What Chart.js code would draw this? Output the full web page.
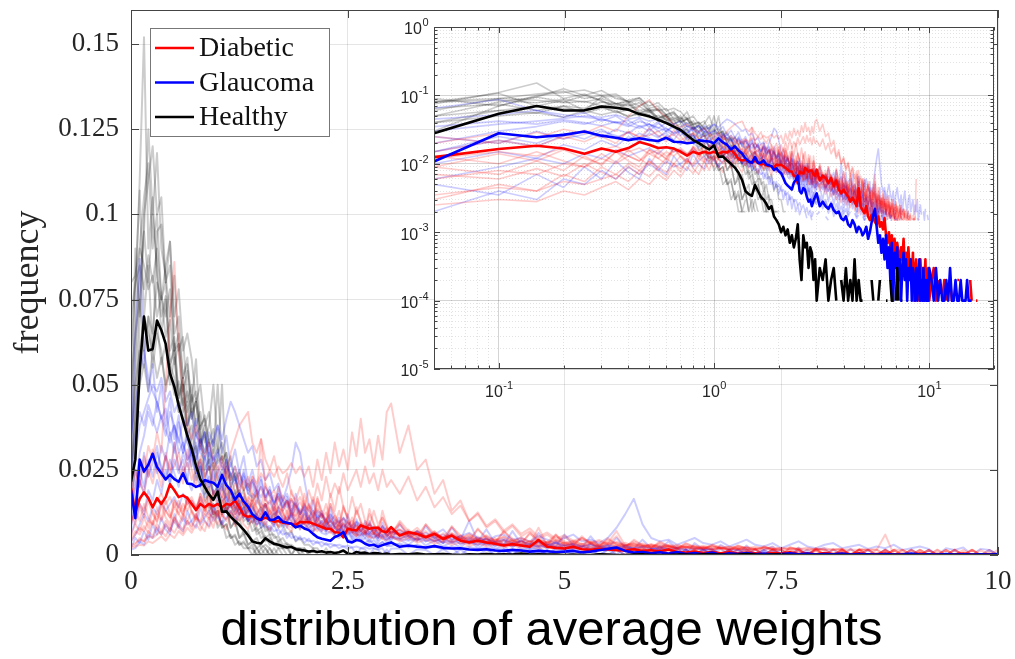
<!DOCTYPE html>
<html lang="en">
<head>
<meta charset="UTF-8">
<title>Distribution of average weights</title>
<script src="https://cdn.jsdelivr.net/npm/chart.js"></script>
<style>
    body { margin: 0; background: #fff; }
    #wrap { position: relative; width: 1015px; height: 659px; }
    #mainChart { position: absolute; left: 0; top: 0; }
    #insetChart { position: absolute; left: 380px; top: 0; }
</style>
</head>
<body>
<div id="wrap">
    <canvas id="mainChart" width="1015" height="659"></canvas>
    <canvas id="insetChart" width="635" height="410"></canvas>
</div>
<script>
// bin centres of the histogram (same bins for every curve)
const bins = [
    0, 0.05, 0.1, 0.15, 0.2, 0.25, 0.3, 0.35, 0.4, 0.45, 0.5, 0.55, 0.6, 0.65, 0.7, 0.75, 0.8, 0.85, 0.9, 0.95,
    1, 1.05, 1.1, 1.15, 1.2, 1.25, 1.3, 1.35, 1.4, 1.45, 1.5, 1.55, 1.6, 1.65, 1.7, 1.75, 1.8, 1.85, 1.9, 1.95,
    2, 2.05, 2.1, 2.15, 2.2, 2.25, 2.3, 2.35, 2.4, 2.45, 2.5, 2.55, 2.6, 2.65, 2.7, 2.75, 2.8, 2.85, 2.9, 2.95, 3,
    3.1, 3.2, 3.3, 3.4, 3.5, 3.6, 3.7, 3.8, 3.9, 4, 4.1, 4.2, 4.3, 4.4, 4.5, 4.6, 4.7, 4.8, 4.9, 5,
    5.1, 5.2, 5.3, 5.4, 5.5, 5.6, 5.7, 5.8, 5.9, 6, 6.1, 6.2, 6.3, 6.4, 6.5, 6.6, 6.7, 6.8, 6.9, 7,
    7.1, 7.2, 7.3, 7.4, 7.5, 7.6, 7.7, 7.8, 7.9, 8, 8.1, 8.2, 8.3, 8.4, 8.5, 8.6, 8.7, 8.8, 8.9, 9,
    9.1, 9.2, 9.3, 9.4, 9.5, 9.6, 9.7, 9.8, 9.9, 10,
    10.25, 10.5, 10.75, 11, 11.25, 11.5, 11.75, 12, 12.25, 12.5, 12.75, 13, 13.25, 13.5,
    13.75, 14, 14.25, 14.5, 14.75, 15, 15.25, 15.5, 15.75, 16, 16.25, 16.5, 16.75, 17
];

// all frequencies below are in units of 1e-4
const SCALE = 1e-4;

// class means (bold lines)
const diabeticMean = [
    195, 125, 165, 184, 167, 140, 167, 150, 170, 208, 190, 170, 175, 167, 150, 132, 150, 140, 150, 143,
    150, 140, 150, 147, 160, 140, 117, 112, 115, 108, 103, 110, 104, 98, 100, 95, 93, 92, 88, 97,
    96, 97, 92, 87, 82, 77, 77, 67, 66, 52, 77, 74, 72, 87, 82, 77, 80, 80, 70, 67, 82,
    57, 67, 62, 52, 62, 47, 57, 42, 37, 42, 37, 33, 28, 32, 28, 24, 44, 24, 21, 19,
    24, 17, 15, 18, 16, 14, 13, 17, 12, 14, 11, 16, 9, 7, 10, 6, 9, 5, 8, 4,
    7, 5, 3, 6, 4, 8, 3, 5, 2, 6, 3, 4, 2, 5, 1, 3, 4, 2, 3, 1,
    4, 2, 3, 1, 2, 4, 1, 2, 3, 1,
    2, 3, 1, 2, 0, 1, 2, 1, 0, 2, 1, 1, 0, 2, 2, 0, 0, 1, 1, 0, 0, 2, 1, 0, 0, 1, 1, 0
];
const glaucomaMean = [
    190, 108, 280, 245, 265, 297, 258, 240, 222, 236, 223, 215, 240, 210, 208, 200, 205, 220, 215, 212,
    200, 235, 205, 190, 162, 180, 157, 142, 120, 108, 103, 125, 103, 104, 112, 98, 95, 92, 81, 86,
    78, 73, 62, 52, 48, 45, 42, 53, 58, 67, 40, 37, 44, 42, 33, 28, 30, 24, 29, 33, 37,
    24, 28, 24, 22, 26, 21, 19, 20, 16, 15, 17, 13, 12, 15, 13, 10, 12, 11, 9, 10,
    12, 8, 10, 14, 18, 22, 12, 7, 9, 5, 8, 4, 9, 3, 6, 2, 7, 1, 5, 3,
    6, 2, 4, 1, 3, 5, 2, 4, 1, 3, 2, 4, 1, 3, 2, 1, 3, 1, 2, 4,
    1, 2, 1, 3, 1, 2, 1, 2, 1, 3,
    2, 1, 3, 1, 2, 1, 1, 2, 1, 3, 1, 1, 2, 1, 1, 2, 1, 1, 1, 2, 1, 1, 1, 0, 0, 0, 0, 0
];
const healthyMean = [
    215, 280, 540, 700, 600, 605, 688, 660, 620, 533, 494, 440, 395, 350, 312, 262, 222, 200, 178, 162,
    186, 127, 128, 112, 100, 88, 74, 58, 40, 36, 34, 49, 40, 33, 30, 26, 22, 24, 17, 15,
    13, 10, 12, 9, 11, 7, 9, 6, 8, 13, 4, 2, 9, 6, 7, 3, 6, 5, 2, 4, 1,
    3, 2, 4, 1, 2, 3, 1, 0, 2, 1, 3, 1, 2, 1, 4, 1, 2, 1, 1, 0,
    1, 0, 0, 2, 1, 0, 0, 1, 2, 0, 0, 0, 1, 1, 0, 2, 1, 1, 0, 1,
    3, 1, 0, 1, 1, 0, 0, 0, 0, 0, 0, 0, 0, 0, 0, 0, 0, 0, 0, 0,
    0, 0, 0, 0, 0, 0, 0, 0, 0, 0,
    0, 0, 0, 0, 0, 0, 0, 0, 0, 0, 0, 0, 0, 0, 0, 0, 0, 0, 0, 0, 0, 0, 0, 0, 0, 0, 0, 0
];

// individual images (faint lines)
const diabetic1 = [
    40, 60, 80, 70, 100, 90, 120, 100, 130, 110, 140, 120, 150, 130, 160, 140, 170, 150, 180, 160,
    190, 170, 200, 180, 210, 190, 220, 200, 230, 210, 240, 220, 250, 230, 260, 240, 250, 270, 240, 260,
    230, 260, 200, 280, 220, 300, 240, 330, 260, 310, 250, 360, 290, 400, 300, 340, 260, 350, 280, 420, 445,
    300, 380, 250, 280, 180, 220, 130, 160, 100, 120, 80, 100, 65, 85, 55, 70, 48, 60, 42, 52,
    38, 46, 34, 40, 30, 36, 27, 32, 24, 29, 22, 26, 20, 24, 18, 22, 17, 20, 16, 19,
    15, 18, 0, 17, 15, 0, 16, 0, 15, 0, 0, 15, 0, 16, 0, 0, 15, 0
];
const diabetic2 = [
    100, 120, 150, 130, 170, 140, 160, 180, 150, 170, 140, 160, 130, 150, 170, 140, 160, 130, 150, 120,
    140, 160, 130, 150, 120, 140, 110, 130, 150, 120, 140, 110, 130, 150, 120, 140, 160, 130, 150, 170,
    140, 190, 150, 210, 160, 230, 170, 210, 180, 240, 190, 220, 250, 200, 260, 210, 240, 190, 250, 200, 220,
    180, 230, 160, 200, 140, 170, 120, 145, 100, 125, 85, 105, 72, 90, 62, 78, 54, 66, 48, 58,
    42, 50, 37, 44, 33, 39, 29, 35, 26, 31, 23, 28, 21, 25, 19, 23, 17, 21, 16, 19,
    15, 18, 0, 17, 15, 0, 16, 0, 15, 0, 0, 15, 0, 16, 15, 0, 0, 15, 0, 0,
    15, 0, 0, 0, 16, 0, 15, 0, 0, 0, 15, 0, 0, 16, 0
];
const diabetic3 = [
    200, 150, 220, 180, 250, 210, 270, 230, 290, 250, 260, 300, 240, 270, 220, 250, 280, 230, 260, 210,
    240, 270, 220, 300, 340, 380, 400, 420, 330, 300, 340, 280, 250, 290, 230, 200, 240, 180, 160, 200,
    150, 130, 170, 120, 110, 150, 100, 90, 130, 85, 80, 110, 75, 70, 95, 65, 60, 85, 55, 52, 75,
    48, 65, 44, 58, 40, 52, 36, 48, 33, 44, 30, 40, 28, 36, 26, 33, 24, 30, 22, 28,
    20, 26, 18, 24, 17, 22, 16, 20, 15, 18, 0, 17, 15, 16, 0, 15, 0, 0, 15, 0,
    0, 16, 0
];
const diabetic4 = [
    25, 30, 50, 40, 70, 55, 90, 70, 100, 80, 110, 90, 120, 100, 130, 110, 100, 140, 120, 110,
    130, 115, 105, 125, 110, 100, 120, 105, 95, 115, 100, 90, 110, 95, 85, 105, 90, 80, 100, 85,
    75, 95, 80, 70, 90, 75, 65, 85, 70, 60, 80, 65, 55, 75, 60, 50, 70, 55, 48, 65, 52,
    45, 60, 42, 55, 40, 52, 38, 50, 36, 48, 34, 45, 32, 42, 30, 40, 28, 38, 60, 26,
    36, 24, 34, 22, 32, 55, 21, 30, 20, 28, 19, 26, 18, 25, 17, 24, 16, 22, 15, 21,
    0, 20, 15, 19, 0, 18, 0, 17, 15, 16, 0, 15, 0, 16, 0, 0, 15, 0, 0, 15,
    0, 0, 0, 15, 0
];
const diabetic5 = [
    150, 200, 280, 240, 320, 280, 360, 300, 500, 700, 860, 600, 480, 380, 340, 380, 320, 290, 330, 280,
    250, 290, 240, 220, 260, 210, 190, 230, 180, 170, 200, 160, 150, 175, 140, 130, 155, 120, 115, 135,
    105, 100, 120, 92, 88, 105, 80, 76, 92, 70, 66, 80, 60, 58, 70, 52, 50, 62, 46, 44, 55,
    40, 50, 36, 45, 33, 40, 30, 37, 27, 34, 25, 31, 23, 28, 21, 26, 19, 24, 18, 22,
    17, 20, 16, 19, 15, 18, 0, 17, 15, 16, 0, 15, 0, 0, 15, 0, 0, 0, 16, 0
];
const diabetic6 = [
    30, 35, 45, 40, 55, 50, 60, 70, 55, 80, 65, 90, 75, 100, 85, 110, 95, 120, 105, 130,
    115, 140, 125, 150, 135, 160, 145, 170, 155, 180, 340, 200, 175, 190, 160, 175, 150, 165, 140, 155,
    130, 145, 120, 135, 110, 125, 100, 115, 95, 108, 88, 100, 82, 95, 78, 90, 72, 85, 68, 80, 64,
    75, 60, 70, 56, 66, 52, 62, 48, 58, 45, 55, 42, 52, 40, 48, 38, 45, 36, 42, 34,
    40, 32, 38, 30, 36, 70, 28, 34, 26, 32, 25, 30, 24, 28, 23, 27, 22, 26, 21, 25,
    20, 24, 19, 23, 18, 22, 17, 21, 16, 20, 15, 19, 0, 18, 15, 17, 0, 16, 15, 0,
    15, 0, 16, 0, 0, 15, 0, 0, 15, 0, 0, 15, 0, 16, 0, 0, 15, 0
];
const diabetic7 = [
    120, 90, 140, 110, 160, 120, 100, 150, 130, 110, 160, 140, 120, 170, 150, 130, 180, 160, 140, 190,
    170, 150, 180, 160, 140, 170, 150, 130, 160, 140, 120, 150, 130, 115, 140, 120, 105, 130, 110, 95,
    120, 100, 88, 110, 92, 80, 100, 85, 74, 92, 78, 68, 85, 72, 62, 78, 66, 58, 72, 60, 54,
    66, 50, 62, 46, 58, 43, 54, 40, 50, 38, 47, 36, 44, 34, 42, 32, 80, 30, 38, 29,
    36, 27, 34, 26, 32, 25, 30, 24, 29, 23, 28, 22, 26, 21, 25, 20, 24, 19, 23, 18,
    22, 17, 21, 16, 20, 15, 19, 0, 18, 15, 17, 0, 16, 15, 0, 15, 60, 0, 15, 0,
    16, 0, 0, 15, 0, 0, 15, 0, 0, 0, 15, 0, 0, 16, 0
];
const diabetic8 = [
    60, 90, 70, 110, 80, 130, 95, 150, 110, 90, 160, 120, 100, 170, 130, 105, 180, 135, 110, 190,
    140, 115, 200, 145, 120, 190, 140, 115, 180, 135, 110, 175, 130, 105, 170, 125, 100, 165, 120, 95,
    160, 115, 90, 155, 110, 85, 150, 105, 80, 145, 100, 75, 140, 95, 70, 135, 90, 65, 130, 85, 60,
    95, 60, 45, 90, 55, 40, 85, 50, 36, 78, 46, 33, 72, 42, 30, 66, 38, 28, 60, 35,
    26, 55, 32, 24, 50, 30, 22, 45, 28, 20, 40, 25, 18, 35, 22, 16, 30, 20, 15, 28,
    18, 0, 25, 16, 0, 22, 15, 0, 20, 0, 15, 18, 0, 0, 16, 0, 15, 0, 0, 15,
    0, 0, 15, 0, 16, 0, 0, 15, 0, 0, 15, 0, 0, 16, 0
];
const diabetic9 = [
    180, 250, 200, 290, 230, 310, 250, 200, 300, 240, 330, 260, 210, 310, 250, 200, 290, 230, 180, 270,
    220, 170, 260, 200, 160, 240, 190, 150, 230, 180, 140, 210, 170, 130, 200, 160, 120, 190, 150, 110,
    180, 140, 100, 165, 130, 95, 150, 120, 85, 140, 110, 80, 130, 100, 72, 120, 92, 66, 110, 85, 60,
    100, 70, 55, 90, 62, 50, 82, 58, 45, 75, 52, 40, 68, 48, 36, 62, 44, 32, 56, 40,
    30, 50, 36, 27, 45, 33, 25, 40, 30, 22, 36, 27, 20, 33, 25, 18, 30, 22, 16, 27,
    20, 15, 25, 18, 0, 22, 16, 0, 20, 15, 0, 18, 0, 15, 16, 0, 0, 15, 0, 0,
    0, 15, 0
];
const diabetic10 = [
    20, 25, 30, 28, 40, 35, 45, 55, 42, 60, 50, 70, 58, 80, 65, 90, 72, 100, 80, 110,
    90, 120, 100, 130, 110, 140, 120, 150, 130, 160, 140, 150, 120, 140, 110, 130, 100, 125, 95, 120,
    90, 115, 85, 110, 80, 105, 78, 100, 75, 95, 70, 92, 68, 88, 65, 85, 62, 82, 60, 78, 58,
    75, 55, 72, 52, 68, 50, 65, 48, 62, 45, 58, 42, 55, 40, 52, 38, 48, 36, 45, 34,
    42, 32, 40, 30, 38, 28, 36, 26, 34, 25, 32, 24, 30, 22, 28, 21, 26, 20, 25, 19,
    24, 18, 22, 17, 21, 16, 20, 15, 19, 0, 18, 15, 17, 0, 16, 15, 0, 15, 0, 16,
    0, 15, 0, 0, 15, 0, 16, 0, 0, 15, 0, 15, 0, 0, 16, 0
];
const diabetic11 = [
    90, 130, 100, 150, 110, 90, 140, 105, 160, 120, 95, 150, 115, 170, 125, 100, 160, 120, 180, 130,
    110, 170, 125, 190, 140, 115, 180, 135, 160, 120, 100, 150, 110, 140, 100, 90, 130, 95, 145, 105,
    90, 150, 110, 170, 120, 100, 180, 130, 200, 140, 110, 170, 120, 150, 100, 85, 130, 90, 110, 75, 65,
    90, 60, 80, 52, 70, 45, 62, 40, 55, 36, 48, 32, 44, 28, 40, 25, 36, 22, 32, 20,
    29, 18, 26, 17, 24, 16, 22, 15, 20, 0, 18, 15, 17, 0, 16, 0, 15, 0, 0, 15, 0
];
const diabetic12 = [
    50, 70, 60, 85, 65, 100, 75, 60, 90, 70, 110, 80, 65, 100, 75, 120, 85, 70, 110, 80,
    130, 90, 75, 120, 85, 125, 90, 75, 115, 85, 120, 88, 72, 110, 80, 115, 82, 68, 105, 75,
    110, 78, 64, 100, 70, 105, 72, 60, 95, 66, 100, 68, 56, 90, 62, 95, 64, 52, 85, 58, 80,
    55, 75, 50, 70, 46, 64, 42, 58, 38, 54, 35, 50, 32, 46, 30, 42, 28, 39, 26, 36,
    24, 33, 22, 30, 21, 28, 20, 26, 19, 24, 18, 22, 17, 21, 16, 20, 15, 19, 0, 18,
    15, 17, 0, 16, 15, 0, 15, 0, 16, 0, 0, 15, 0, 15, 0, 0, 15, 0, 16, 0,
    0, 15, 0, 15, 0, 0, 15, 0
];

const glaucoma1 = [
    300, 650, 870, 600, 520, 480, 450, 400, 430, 350, 380, 300, 330, 280, 300, 240, 260, 200, 230, 180,
    200, 160, 170, 140, 150, 120, 130, 100, 110, 90, 95, 80, 85, 70, 75, 60, 65, 50, 55, 45,
    50, 40, 42, 35, 38, 30, 33, 28, 30, 25, 27, 22, 25, 20, 23, 18, 21, 17, 20, 0, 18,
    20, 0, 17, 15, 0, 18, 0, 16, 0, 0, 15, 0, 17, 0, 0, 0, 15, 0, 0, 16,
    0, 0, 0, 0, 15, 0
];
const glaucoma2 = [
    120, 200, 300, 350, 420, 380, 450, 400, 350, 420, 380, 330, 400, 350, 300, 360, 300, 280, 330, 270,
    300, 250, 280, 230, 260, 210, 240, 200, 220, 180, 200, 170, 190, 150, 170, 140, 160, 130, 150, 120,
    140, 110, 130, 100, 120, 95, 110, 90, 100, 80, 95, 75, 90, 70, 85, 65, 80, 60, 75, 55, 70,
    60, 70, 55, 65, 50, 60, 45, 55, 40, 50, 45, 38, 48, 35, 42, 32, 40, 30, 36, 28,
    34, 25, 32, 24, 30, 22, 28, 20, 26, 18, 24, 17, 22, 0, 20, 16, 18, 0, 17, 15,
    0, 16, 0, 15, 0, 0, 15, 0, 0, 0, 16, 0
];
const glaucoma3 = [
    40, 60, 90, 120, 100, 140, 120, 160, 130, 150, 170, 140, 180, 150, 160, 130, 170, 140, 150, 120,
    160, 140, 130, 150, 120, 140, 110, 130, 120, 100, 130, 110, 120, 100, 140, 160, 200, 250, 330, 300,
    220, 150, 130, 110, 120, 90, 100, 80, 90, 70, 85, 65, 75, 60, 70, 55, 65, 50, 60, 45, 55,
    50, 55, 45, 50, 40, 48, 36, 45, 33, 40, 30, 38, 28, 34, 26, 32, 24, 30, 22, 28,
    20, 26, 18, 24, 17, 22, 16, 20, 0, 18, 15, 17, 0, 16, 0, 15, 0, 0, 15, 0
];
const glaucoma4 = [
    200, 300, 380, 420, 460, 500, 480, 520, 450, 480, 420, 450, 400, 380, 420, 350, 330, 360, 300, 280,
    310, 260, 240, 270, 220, 200, 230, 180, 170, 190, 150, 140, 160, 120, 130, 110, 100, 115, 90, 85,
    95, 75, 70, 80, 65, 60, 70, 55, 50, 60, 45, 42, 50, 38, 36, 44, 33, 30, 38, 28, 26,
    34, 25, 30, 22, 28, 20, 26, 19, 24, 18, 22, 17, 20, 0, 19, 16, 18, 0, 17, 15,
    16, 0, 15, 0, 0, 16, 0, 0, 15, 0
];
const glaucoma5 = [
    15, 20, 40, 30, 60, 50, 80, 60, 90, 70, 100, 80, 110, 90, 100, 120, 90, 110, 130, 100,
    120, 90, 110, 130, 100, 120, 140, 100, 120, 90, 110, 130, 100, 90, 110, 80, 100, 120, 90, 80,
    100, 110, 85, 95, 75, 90, 100, 80, 70, 90, 75, 85, 65, 80, 70, 60, 75, 65, 55, 70, 60,
    65, 55, 70, 50, 60, 75, 45, 55, 65, 50, 40, 55, 60, 45, 50, 40, 55, 45, 35, 50,
    60, 40, 45, 35, 50, 80, 120, 165, 90, 50, 40, 45, 30, 40, 50, 35, 30, 40, 25, 35,
    45, 30, 25, 35, 20, 30, 40, 25, 20, 30, 35, 20, 25, 30, 18, 25, 20, 30, 15, 20,
    25, 18, 0, 20, 15, 22, 0, 18, 15, 0
];
const glaucoma6 = [
    100, 150, 250, 200, 280, 230, 300, 260, 220, 280, 240, 200, 260, 220, 190, 240, 200, 170, 220, 180,
    160, 200, 170, 150, 180, 150, 130, 160, 140, 120, 140, 120, 105, 125, 110, 95, 115, 100, 85, 100,
    90, 78, 90, 80, 70, 85, 75, 65, 75, 68, 60, 70, 62, 55, 65, 58, 50, 60, 52, 45, 55,
    48, 42, 50, 40, 46, 36, 42, 34, 40, 30, 36, 28, 33, 26, 30, 24, 28, 22, 26, 20,
    25, 19, 23, 18, 21, 17, 20, 16, 0, 18, 15, 17, 0, 16, 0, 15, 15, 0, 0, 16,
    0, 0, 15, 0
];
const glaucoma7 = [
    250, 350, 420, 380, 440, 400, 360, 410, 370, 330, 380, 340, 300, 350, 310, 280, 320, 290, 250, 290,
    260, 230, 260, 240, 210, 240, 210, 190, 220, 190, 170, 200, 175, 155, 180, 160, 140, 160, 145, 125,
    145, 130, 115, 130, 120, 105, 118, 105, 95, 108, 96, 86, 98, 88, 78, 90, 80, 72, 82, 74, 66,
    72, 60, 68, 55, 62, 50, 58, 46, 52, 42, 48, 38, 44, 35, 40, 32, 37, 30, 34, 28,
    31, 26, 29, 24, 27, 22, 25, 20, 23, 19, 21, 18, 20, 17, 19, 16, 18, 0, 17, 15,
    16, 0, 15, 0, 16, 0, 0, 15, 0
];
const glaucoma8 = [
    80, 150, 220, 180, 260, 300, 240, 320, 280, 360, 300, 390, 330, 280, 350, 400, 310, 360, 290, 340,
    380, 300, 350, 260, 310, 240, 290, 210, 250, 190, 230, 170, 200, 150, 180, 130, 160, 115, 140, 100,
    125, 90, 110, 80, 100, 70, 90, 60, 85, 55, 75, 50, 70, 45, 65, 40, 60, 38, 55, 35, 50,
    45, 30, 50, 28, 42, 25, 38, 22, 45, 20, 35, 18, 30, 0, 28, 17, 25, 0, 22, 15,
    20, 0, 18, 0, 16, 15, 0, 17, 0, 0, 15, 0, 0, 16, 0
];
const glaucoma9 = [
    350, 450, 520, 600, 480, 560, 420, 500, 380, 460, 340, 410, 300, 370, 260, 330, 230, 290, 200, 250,
    170, 220, 150, 190, 130, 160, 110, 140, 95, 120, 80, 100, 70, 90, 60, 75, 50, 65, 42, 55,
    36, 48, 30, 40, 25, 35, 22, 30, 20, 25, 18, 22, 0, 20, 16, 0, 18, 15, 0, 16, 0
];
const glaucoma10 = [
    20, 50, 35, 70, 45, 90, 60, 110, 75, 60, 120, 85, 70, 130, 95, 80, 140, 100, 85, 150,
    110, 90, 160, 115, 95, 150, 120, 100, 140, 110, 90, 150, 105, 85, 140, 100, 80, 135, 95, 75,
    130, 90, 70, 125, 85, 65, 120, 80, 60, 110, 75, 55, 105, 70, 50, 100, 65, 45, 95, 60, 42,
    90, 55, 40, 85, 50, 35, 80, 45, 100, 40, 75, 35, 30, 70, 32, 28, 65, 30, 25, 60,
    28, 22, 55, 25, 20, 50, 22, 18, 45, 20, 17, 40, 18, 0, 35, 16, 0, 30, 15, 0,
    28, 0, 15, 25, 0, 0, 22, 0, 16, 20, 0, 0, 18, 0, 15, 0, 17, 0, 0, 16,
    0, 15, 0, 0, 15, 0, 0, 0, 15, 0
];
const glaucoma11 = [
    150, 250, 200, 300, 230, 270, 320, 240, 290, 210, 330, 250, 280, 220, 310, 240, 270, 200, 300, 220,
    250, 190, 280, 200, 230, 170, 250, 180, 210, 150, 220, 160, 190, 130, 200, 140, 170, 110, 180, 120,
    150, 95, 160, 100, 130, 80, 140, 85, 110, 70, 120, 72, 95, 60, 100, 62, 80, 50, 85, 52, 70,
    60, 45, 70, 40, 55, 35, 60, 30, 48, 28, 52, 25, 42, 22, 45, 20, 38, 18, 40, 17,
    33, 0, 35, 16, 28, 0, 30, 15, 25, 0, 26, 0, 22, 15, 0, 20, 0, 18, 0, 0,
    17, 0, 0, 15, 0
];
const glaucoma12 = [
    60, 100, 150, 120, 190, 160, 220, 180, 250, 210, 280, 240, 300, 260, 320, 280, 340, 300, 360, 320,
    380, 340, 400, 450, 420, 380, 340, 300, 320, 260, 280, 220, 240, 190, 210, 160, 180, 140, 155, 120,
    135, 100, 115, 85, 100, 72, 88, 62, 76, 54, 66, 46, 58, 40, 50, 35, 44, 30, 38, 26, 34,
    30, 22, 28, 19, 25, 17, 22, 0, 20, 15, 18, 0, 16, 0, 15, 0, 0, 15, 0
];

const healthy1 = [
    300, 750, 1100, 1520, 900, 1050, 820, 700, 760, 560, 600, 420, 460, 330, 300, 220, 260, 160, 180, 110,
    130, 80, 90, 50, 60, 30, 40, 20, 30, 0, 20, 0, 20, 0
];
const healthy2 = [
    150, 500, 800, 950, 1250, 1000, 1180, 900, 820, 700, 820, 600, 640, 450, 500, 350, 380, 250, 280, 180,
    200, 120, 150, 80, 100, 50, 70, 30, 40, 20, 30, 20, 0, 20, 0
];
const healthy3 = [
    600, 800, 1070, 700, 850, 600, 950, 970, 800, 920, 650, 700, 520, 580, 420, 450, 320, 360, 250, 270,
    180, 210, 130, 150, 90, 110, 60, 70, 40, 50, 20, 30, 20, 0, 20, 0
];
const healthy4 = [
    200, 400, 600, 550, 700, 650, 800, 750, 850, 920, 700, 780, 600, 650, 575, 450, 500, 380, 420, 300,
    500, 280, 300, 200, 240, 150, 170, 100, 120, 70, 80, 50, 60, 30, 40, 20, 30, 0, 20, 20, 0
];
const healthy5 = [
    500, 650, 750, 600, 700, 550, 650, 600, 480, 560, 520, 420, 500, 380, 450, 575, 350, 300, 340, 250,
    280, 500, 220, 160, 190, 120, 140, 90, 100, 60, 70, 40, 50, 30, 30, 20, 20, 0, 20, 0
];
const healthy6 = [
    100, 300, 700, 1000, 1100, 1200, 1000, 1050, 800, 850, 600, 620, 420, 450, 300, 320, 200, 220, 130, 150,
    80, 100, 50, 60, 30, 40, 20, 20, 0, 20, 0
];
const healthy7 = [
    700, 800, 850, 780, 880, 800, 900, 760, 700, 780, 600, 650, 520, 560, 450, 480, 380, 400, 320, 340,
    270, 290, 220, 240, 180, 190, 140, 150, 110, 120, 80, 90, 60, 60, 40, 50, 30, 30, 20, 20,
    20, 0, 20, 0
];
const healthy8 = [
    400, 900, 700, 950, 800, 1000, 850, 650, 750, 550, 620, 470, 520, 380, 430, 300, 340, 230, 260, 170,
    190, 120, 140, 80, 100, 50, 60, 30, 40, 20, 0, 20, 0
];
const healthy9 = [
    350, 500, 600, 700, 650, 600, 680, 560, 620, 500, 580, 460, 520, 420, 470, 380, 420, 330, 380, 500,
    320, 270, 300, 220, 240, 170, 190, 130, 150, 100, 110, 70, 80, 50, 55, 30, 35, 20, 20, 0, 20, 0
];
const healthy10 = [
    200, 600, 900, 1050, 1150, 900, 1000, 750, 800, 600, 640, 460, 500, 350, 380, 260, 280, 180, 200, 120,
    130, 80, 90, 50, 55, 30, 35, 20, 20, 0
];
const healthy11 = [
    250, 400, 500, 560, 480, 600, 520, 580, 500, 540, 470, 510, 440, 480, 400, 450, 370, 410, 330, 370,
    300, 330, 260, 290, 220, 250, 190, 210, 160, 180, 130, 150, 100, 120, 80, 90, 60, 70, 40, 50,
    30, 30, 20, 20, 0, 20, 0
];
const healthy12 = [
    800, 820, 900, 850, 780, 820, 700, 760, 640, 690, 560, 620, 480, 540, 400, 460, 330, 380, 270, 310,
    220, 250, 170, 200, 130, 150, 100, 110, 70, 80, 50, 55, 30, 35, 20, 20, 0
];

const classes = [
    { label: 'Diabetic', rgb: '255,0,0', mean: diabeticMean,
      runs: [diabetic1, diabetic2, diabetic3, diabetic4, diabetic5, diabetic6,
             diabetic7, diabetic8, diabetic9, diabetic10, diabetic11, diabetic12] },
    { label: 'Glaucoma', rgb: '0,0,255', mean: glaucomaMean,
      runs: [glaucoma1, glaucoma2, glaucoma3, glaucoma4, glaucoma5, glaucoma6,
             glaucoma7, glaucoma8, glaucoma9, glaucoma10, glaucoma11, glaucoma12] },
    { label: 'Healthy', rgb: '0,0,0', mean: healthyMean,
      runs: [healthy1, healthy2, healthy3, healthy4, healthy5, healthy6,
             healthy7, healthy8, healthy9, healthy10, healthy11, healthy12] }
];

// on the log inset an empty bin (0) can't be drawn, so it becomes a gap
function toPoints(values, logScale) {
    const pts = [];
    values.forEach((v, i) => {
        const x = bins[i];
        if (logScale && x <= 0) return;
        pts.push({ x: x, y: (logScale && v === 0) ? null : v * SCALE });
    });
    return pts;
}

function buildDatasets(logScale) {
    const sets = [];
    classes.forEach((c, ci) => {
        c.runs.forEach(r => sets.push({
            data: toPoints(r, logScale),
            borderColor: `rgba(${c.rgb},0.2)`,
            borderWidth: logScale ? 1.6 : 2,
            order: 10 + ci
        }));
    });
    classes.forEach((c, ci) => sets.push({
        label: c.label,
        data: toPoints(c.mean, logScale),
        borderColor: `rgb(${c.rgb})`,
        borderWidth: 2.6,
        order: 3 - ci
    }));
    return sets;
}

Chart.defaults.font.family = '"Liberation Serif", serif';
Chart.defaults.color = '#262626';
Chart.defaults.elements.point.radius = 0;
Chart.defaults.elements.line.tension = 0;
Chart.defaults.elements.line.borderJoinStyle = 'round';

// no extra room for half labels: the plot box is fixed
function noScalePadding(s) {
    s.paddingTop = 0; s.paddingBottom = 0; s.paddingLeft = 0; s.paddingRight = 0;
}

// box + inward tick marks, MATLAB style
const mainFrame = {
    id: 'mainFrame',
    afterDatasetsDraw(chart) {
        const { ctx, chartArea: a, scales: { x, y } } = chart;
        ctx.save();
        ctx.strokeStyle = '#444';
        ctx.lineWidth = 1;
        ctx.beginPath();
        x.ticks.forEach(t => {
            const px = Math.round(x.getPixelForValue(t.value)) + 0.5;
            ctx.moveTo(px, a.bottom); ctx.lineTo(px, a.bottom - 8);
            ctx.moveTo(px, a.top); ctx.lineTo(px, a.top + 8);
        });
        y.ticks.forEach(t => {
            const py = Math.round(y.getPixelForValue(t.value)) + 0.5;
            ctx.moveTo(a.left, py); ctx.lineTo(a.left + 8, py);
            ctx.moveTo(a.right, py); ctx.lineTo(a.right - 8, py);
        });
        ctx.stroke();
        ctx.strokeRect(a.left + 0.5, a.top + 0.5, a.right - a.left - 1, a.bottom - a.top - 1);
        ctx.restore();
    }
};

const boxLegend = {
    id: 'boxLegend',
    afterDraw(chart) {
        const { ctx, chartArea: a } = chart;
        const left = a.left + 19, top = a.top + 18;
        ctx.save();
        ctx.fillStyle = '#fff';
        ctx.fillRect(left, top, 179, 108);
        ctx.strokeStyle = '#777';
        ctx.lineWidth = 1;
        ctx.strokeRect(left + 0.5, top + 0.5, 179, 108);
        ctx.font = '28px "Liberation Serif"';
        ctx.textBaseline = 'middle';
        const rows = chart.data.datasets.filter(d => d.label);
        rows.forEach((d, i) => {
            const yy = top + 20 + i * 34.5;
            ctx.strokeStyle = d.borderColor;
            ctx.lineWidth = 2.4;
            ctx.beginPath();
            ctx.moveTo(left + 5, yy); ctx.lineTo(left + 44, yy);
            ctx.stroke();
            ctx.fillStyle = '#111';
            ctx.fillText(d.label, left + 49, yy + 1);
        });
        ctx.restore();
    }
};

// x-axis caption, set slightly left of the axis centre as in the figure
const xCaption = {
    id: 'xCaption',
    afterDraw(chart) {
        const { ctx, chartArea: a } = chart;
        ctx.save();
        ctx.font = '49px "Liberation Sans", Arial, sans-serif';
        ctx.fillStyle = '#000';
        ctx.textAlign = 'center';
        ctx.textBaseline = 'middle';
        ctx.fillText('distribution of average weights', (a.left + a.right) / 2 - 13, 631);
        ctx.restore();
    }
};

new Chart(document.getElementById('mainChart'), {
    type: 'line',
    data: { datasets: buildDatasets(false) },
    options: {
        responsive: false,
        animation: false,
        events: [],
        layout: { padding: { top: 10, right: 17, left: 0, bottom: 0 } },
        plugins: { legend: { display: false }, tooltip: { enabled: false } },
        scales: {
            x: {
                type: 'linear', min: 0, max: 10,
                ticks: { stepSize: 2.5, padding: 11, maxRotation: 0, font: { size: 27 },
                         callback: v => String(+v.toFixed(2)) },
                grid: { color: 'rgba(0,0,0,0.1)', drawTicks: false },
                border: { display: false },
                afterFit: s => { s.height = 104; noScalePadding(s); }
            },
            y: {
                type: 'linear', min: 0, max: 0.16,
                ticks: { stepSize: 0.025, padding: 12, font: { size: 27 },
                         callback: v => String(+v.toFixed(3)) },
                afterBuildTicks: s => {
                    s.ticks = s.ticks.filter(t => Math.abs(t.value / 0.025 - Math.round(t.value / 0.025)) < 1e-6);
                },
                grid: { color: 'rgba(0,0,0,0.1)', drawTicks: false },
                border: { display: false },
                title: { display: true, text: 'frequency', color: '#262626', font: { size: 36 }, padding: { top: 7 } },
                afterFit: s => { s.width = 131; noScalePadding(s); }
            }
        }
    },
    plugins: [mainFrame, boxLegend, xCaption]
});

// ---- inset: same curves on log-log axes ----
function isDecade(v) {
    const e = Math.round(Math.log10(v));
    return Math.abs(v / Math.pow(10, e) - 1) < 1e-6;
}
function keepUnitSteps(s) {
    s.ticks = s.ticks.filter(t => {
        const m = t.value / Math.pow(10, Math.floor(Math.log10(t.value) + 1e-9));
        return Math.abs(m - Math.round(m)) < 1e-6;
    });
}
const logGrid = {
    color: c => (c.tick && isDecade(c.tick.value)) ? 'rgba(0,0,0,0.17)' : 'rgba(0,0,0,0.11)',
    drawTicks: false
};
const logBorder = {
    display: false,
    dash: c => (c.tick && isDecade(c.tick.value)) ? [] : [1, 2]
};

function drawPower(ctx, exp, x, y, align) {
    const base = '10', sup = String(exp);
    ctx.font = '16px "Liberation Sans", Arial, sans-serif';
    const bw = ctx.measureText(base).width;
    ctx.font = '11px "Liberation Sans", Arial, sans-serif';
    const sw = ctx.measureText(sup).width;
    const start = align === 'right' ? x - bw - sw : x - (bw + sw) / 2;
    ctx.font = '16px "Liberation Sans", Arial, sans-serif';
    ctx.fillText(base, start, y);
    ctx.font = '11px "Liberation Sans", Arial, sans-serif';
    ctx.fillText(sup, start + bw + 0.5, y - 7);
}

const insetFrame = {
    id: 'insetFrame',
    beforeDraw(chart) {
        const { ctx, chartArea: a } = chart;
        ctx.save();
        ctx.fillStyle = '#fff';
        ctx.fillRect(a.left, a.top, a.right - a.left, a.bottom - a.top);
        ctx.restore();
    },
    afterDatasetsDraw(chart) {
        const { ctx, chartArea: a, scales: { x, y } } = chart;
        ctx.save();
        ctx.strokeStyle = '#444';
        ctx.lineWidth = 1;
        ctx.beginPath();
        x.ticks.forEach(t => {
            const px = Math.round(x.getPixelForValue(t.value)) + 0.5;
            const len = isDecade(t.value) ? 6 : 3.5;
            ctx.moveTo(px, a.bottom); ctx.lineTo(px, a.bottom - len);
            ctx.moveTo(px, a.top); ctx.lineTo(px, a.top + len);
        });
        y.ticks.forEach(t => {
            const py = Math.round(y.getPixelForValue(t.value)) + 0.5;
            const len = isDecade(t.value) ? 6 : 3.5;
            ctx.moveTo(a.left, py); ctx.lineTo(a.left + len, py);
            ctx.moveTo(a.right, py); ctx.lineTo(a.right - len, py);
        });
        ctx.stroke();
        ctx.strokeRect(a.left + 0.5, a.top + 0.5, a.right - a.left - 1, a.bottom - a.top - 1);
        ctx.restore();
    },
    afterDraw(chart) {
        const { ctx, chartArea: a, scales: { x, y } } = chart;
        ctx.save();
        ctx.fillStyle = '#262626';
        ctx.textBaseline = 'middle';
        ctx.textAlign = 'left';
        x.ticks.filter(t => isDecade(t.value)).forEach(t => {
            drawPower(ctx, Math.round(Math.log10(t.value)), x.getPixelForValue(t.value), a.bottom + 24, 'center');
        });
        y.ticks.filter(t => isDecade(t.value)).forEach(t => {
            drawPower(ctx, Math.round(Math.log10(t.value)), a.left - 6, y.getPixelForValue(t.value) + 3, 'right');
        });
        ctx.restore();
    }
};

new Chart(document.getElementById('insetChart'), {
    type: 'line',
    data: { datasets: buildDatasets(true) },
    options: {
        responsive: false,
        animation: false,
        events: [],
        layout: { padding: { top: 27, right: 21, left: 0, bottom: 0 } },
        plugins: { legend: { display: false }, tooltip: { enabled: false } },
        scales: {
            x: {
                type: 'logarithmic', min: 0.05, max: 20,
                ticks: { display: false },
                afterBuildTicks: keepUnitSteps,
                grid: logGrid, border: logBorder,
                afterFit: s => { s.height = 41; noScalePadding(s); }
            },
            y: {
                type: 'logarithmic', min: 1e-5, max: 1,
                ticks: { display: false },
                afterBuildTicks: keepUnitSteps,
                grid: logGrid, border: logBorder,
                afterFit: s => { s.width = 54; noScalePadding(s); }
            }
        }
    },
    plugins: [insetFrame]
});
</script>
</body>
</html>
